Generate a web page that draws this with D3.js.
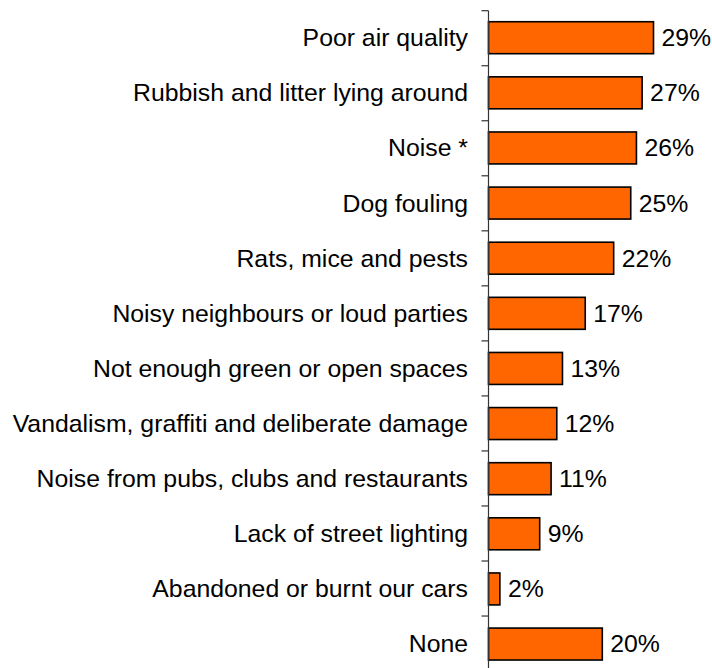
<!DOCTYPE html>
<html>
<head>
<meta charset="utf-8">
<script src="https://cdn.jsdelivr.net/npm/d3@7"></script>
<style>
  html, body { margin: 0; padding: 0; background: #fff; }
  svg { display: block; }
  text { font-family: "Liberation Sans", Arial, sans-serif; fill: #000; }
</style>
</head>
<body>
<svg id="chart" width="712" height="668"></svg>
<script>
// Local environmental problems, share of respondents (%)
const categories = [
  "Poor air quality",
  "Rubbish and litter lying around",
  "Noise *",
  "Dog fouling",
  "Rats, mice and pests",
  "Noisy neighbours or loud parties",
  "Not enough green or open spaces",
  "Vandalism, graffiti and deliberate damage",
  "Noise from pubs, clubs and restaurants",
  "Lack of street lighting",
  "Abandoned or burnt our cars",
  "None"
];
const values = [29, 27, 26, 25, 22, 17, 13, 12, 11, 9, 2, 20];

const svg = d3.select("#chart");
const axisX = 488.5;
const plotTop = 10.7, bandStep = 55.03;
const fontSize = "24.8px";

const y = d3.scaleBand()
  .domain(categories)
  .range([plotTop, plotTop + bandStep * categories.length])
  .paddingInner(0.42)
  .paddingOuter(0.2);

const x = d3.scaleLinear()
  .domain([0, 29])
  .range([axisX, axisX + 165]);

// bars
svg.append("g").selectAll("rect")
  .data(categories)
  .join("rect")
  .attr("x", x(0))
  .attr("y", d => y(d))
  .attr("width", (d, i) => x(values[i]) - x(0))
  .attr("height", y.bandwidth())
  .attr("fill", "#FF6600")
  .attr("stroke", "#000")
  .attr("stroke-width", 1.6);

// category axis with ticks on band boundaries
const axisG = svg.append("g");
axisG.append("line")
  .attr("x1", axisX).attr("x2", axisX)
  .attr("y1", plotTop).attr("y2", plotTop + bandStep * categories.length)
  .attr("stroke", "#333").attr("stroke-width", 1.2);
axisG.selectAll("line.tick")
  .data(d3.range(categories.length + 1))
  .join("line")
  .attr("class", "tick")
  .attr("x1", axisX - 7).attr("x2", axisX)
  .attr("y1", i => plotTop + i * bandStep)
  .attr("y2", i => plotTop + i * bandStep)
  .attr("stroke", "#333").attr("stroke-width", 1.2);

// category labels
svg.append("g").selectAll("text")
  .data(categories)
  .join("text")
  .attr("x", 468)
  .attr("y", d => y(d) + y.bandwidth() / 2)
  .attr("dy", "0.34em")
  .attr("text-anchor", "end")
  .style("font-size", fontSize)
  .text(d => d);

// value labels
svg.append("g").selectAll("text")
  .data(categories)
  .join("text")
  .attr("x", (d, i) => x(values[i]) + 8)
  .attr("y", d => y(d) + y.bandwidth() / 2)
  .attr("dy", "0.34em")
  .style("font-size", fontSize)
  .text((d, i) => values[i] + "%");
</script>
</body>
</html>
